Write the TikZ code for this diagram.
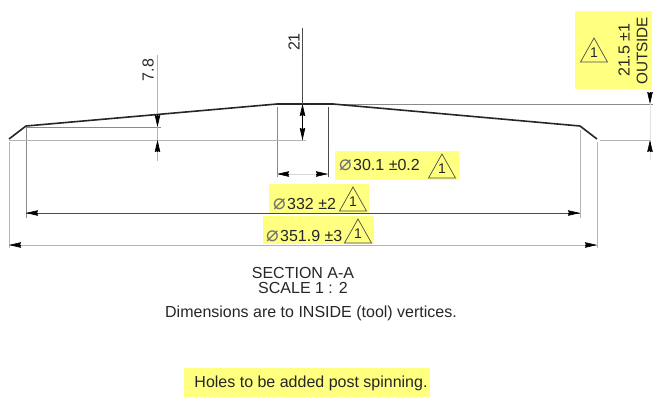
\documentclass[tikz,border=0pt]{standalone}
\usepackage{fontspec}
\setmainfont{Liberation Sans}
\newfontfamily\dejavu{DejaVu Sans}
\usetikzlibrary{arrows.meta}
\definecolor{hilite}{HTML}{FFFF80}
\definecolor{lgray}{HTML}{B4B4B4}
\definecolor{mgray}{HTML}{8A8A8A}
\definecolor{dgray}{HTML}{4A4A4A}
\tikzset{
	extline/.style={lgray, line width=0.9pt},
	midline/.style={mgray, line width=0.9pt},
	dimline/.style={dgray, line width=0.9pt},
	tick/.style={-{Stealth[length=12pt,width=5.5pt,inset=1pt]}, black, line width=0.6pt},
	lbl/.style={font=\fontsize{16}{16}\selectfont, inner sep=0pt, text=black!85},
	hbox/.style={fill=hilite, draw=none},
	rev/.style={draw=black!70, line width=0.7pt, line join=miter},
}
\newcommand{\phisym}{\makebox[14pt][l]{\dejavu\fontsize{21}{16}\selectfont\textcolor{black!55}{\char"2300}}}
\begin{document}
\begin{tikzpicture}[x=1pt, y=-1pt, line join=round, line cap=butt, >=stealth]
	\useasboundingbox (0,0) rectangle (661,400);
	% highlights
	\fill[hbox] (575,11) rectangle (652,89);
	\fill[hbox] (335,151) rectangle (459,180);
	\fill[hbox] (269,184) rectangle (369,213);
	\fill[hbox] (263,216) rectangle (374,244);
	\fill[hbox] (184,368) rectangle (430,397);
	\path (9,139) coordinate (S)
	(26,126) coordinate (P)
	(277,104) coordinate (Q)
	(333,104) coordinate (R)
	(580,126) coordinate (T)
	(597,139) coordinate (U);
	% extension lines
	\draw[extline] (9,142) -- (9,248) (597,142) -- (597,248) (580,130) -- (580,218);
	\draw[midline] (277,107) -- (277,177) (26,128) -- (26,218);
	\draw[dimline] (328,107) -- (328,177);
	\draw[extline] (9,140) -- (306,140) (600,140) -- (651,140);
	\draw[midline] (333,104) -- (653,104);
	\draw[midline] (26,127) -- (161,127);
	% profile
	\draw[line width=1.6pt, black!85] (S) -- (P) -- (Q) -- (R) -- (T) -- (U);
	% dimensions
	\draw[extline] (157.5,55) -- (157.5,161);
	\draw[dimline] (302.5,28) -- (302.5,140);
	\draw[extline, black!12] (650,104) -- (650,160);
	\draw[extline, black!15] (277,174) -- (328,174);
	\draw[dimline] (26,213) -- (580,213);
	\draw[extline] (9,245) -- (597,245);
	% arrow heads
	\foreach \a/\b in {{157.5,114}/{157.5,127}, {157.5,152}/{157.5,140},
		{302.5,122}/{302.5,104}, {302.5,122}/{302.5,140},
		{650,92}/{650,104}, {650,152}/{650,140},
		{289,174}/{277,174}, {316,174}/{328,174},
		{38,213}/{26,213}, {568,213}/{580,213},
		{21,245}/{9,245}, {585,245}/{597,245}}
	\draw[tick] (\a) -- (\b);
	% revision triangles
	\foreach \x/\y in {594/38, 442/154, 353/187, 358/219}
	\draw[rev] (\x,\y) -- ++(-13.5,24) -- ++(27,0) -- cycle
	node[lbl, font=\fontsize{14}{14}\selectfont] at (\x,\y+15) {1};
	% labels
	\node[lbl, rotate=90] (n78) at (148,70) {7.8};
	\node[lbl, rotate=90] (n21) at (294,42) {21};
	\node[lbl, rotate=90, anchor=west] (n215) at (624,77) {21.5 \textpm1};
	\node[lbl, rotate=90, anchor=west, font=\fontsize{15.3}{15.3}\selectfont] (nout) at (642,85) {OUTSIDE};
	\node[lbl, anchor=west] (nd30) at (339,165) {\phisym 30.1 \textpm0.2};
	\node[lbl, anchor=west] (nd332) at (273,204) {\phisym 332 \textpm2};
	\node[lbl, anchor=west] (nd352) at (266,236) {\phisym 351.9 \textpm3};
	\node[lbl] (nsec) at (303,272.5) {SECTION A-A};
	\node[lbl] (nscale) at (303,288) {SCALE 1 : 2};
	\node[lbl] (ndim) at (311,313) {Dimensions are to INSIDE (tool) vertices.};
	\node[lbl] (nholes) at (311,383) {Holes to be added post spinning.};
\end{tikzpicture}
\end{document}
